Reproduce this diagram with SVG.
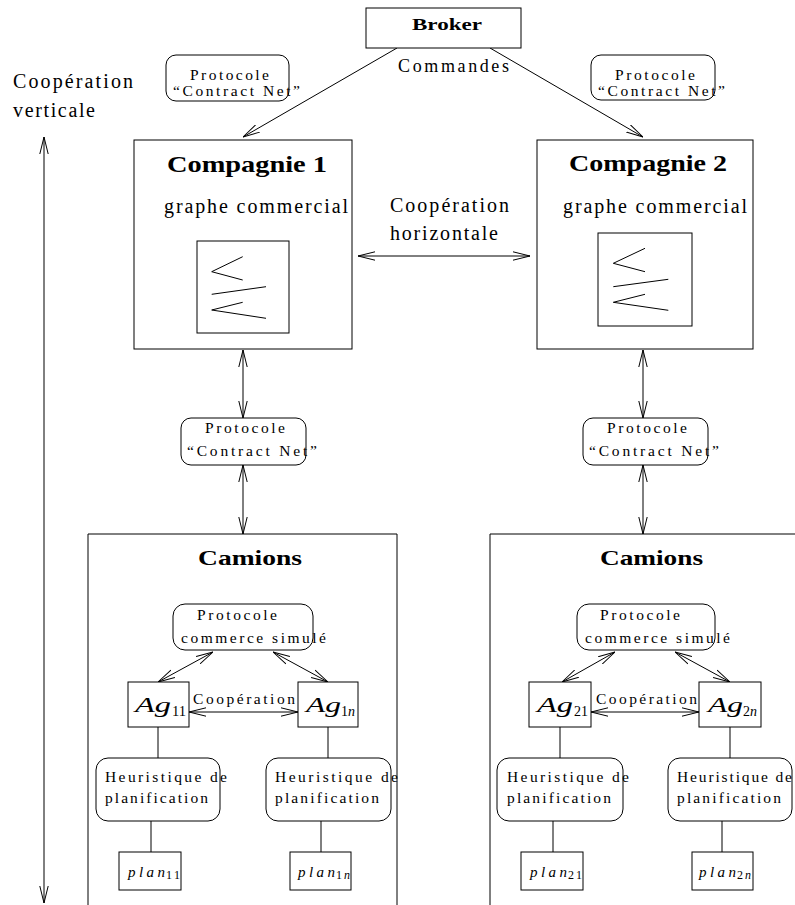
<svg xmlns="http://www.w3.org/2000/svg" width="795" height="905" viewBox="0 0 795 905">
<style>
text{font-family:"Liberation Serif","DejaVu Serif",serif;fill:#000}
.b{font-weight:bold}
.i{font-style:italic}
.s{font-size:15.5px}
.box{fill:#fff;stroke:#000;stroke-width:1}
.ln{fill:none;stroke:#000;stroke-width:1}
.ar{fill:none;stroke:#000;stroke-width:1;marker-end:url(#ah)}
.ar2{fill:none;stroke:#000;stroke-width:1;marker-end:url(#ah);marker-start:url(#ah)}
</style>
<defs>
<marker id="ah" viewBox="0 0 17 10" refX="17" refY="5" markerWidth="17" markerHeight="10" markerUnits="userSpaceOnUse" orient="auto-start-reverse">
<path d="M0,0.8 L17,5 L0,9.2" fill="none" stroke="#000" stroke-width="1"/>
</marker>
</defs>
<rect width="795" height="905" fill="#fff"/>

<g id="connectors">
<path class="ar" d="M397,48 L243,137"/>
<path class="ar" d="M490,48 L643,137"/>
<path class="ar2" d="M44,137 L44,903"/>
<path class="ar2" d="M358,256 L530,256"/>
<path class="ar2" d="M243,350 L243,418"/>
<path class="ar2" d="M243,465 L243,534"/>
<path class="ar2" d="M643,350 L643,418"/>
<path class="ar2" d="M643,465 L643,534"/>
<path class="ar2" d="M213,652 L158,682"/>
<path class="ar2" d="M273,652 L328,682"/>
<path class="ar2" d="M189,712 L298,712"/>
<path class="ar2" d="M615,652 L562,682"/>
<path class="ar2" d="M675,652 L730,682"/>
<path class="ar2" d="M591,712 L699,712"/>
<path class="ln" d="M158,727 V758 M151,821 V852 M328,727 V758 M321,821 V852"/>
<path class="ln" d="M560,727 V758 M553,821 V852 M730,727 V758 M722,821 V852"/>
</g>

<g id="labels">
<text x="13" y="88" font-size="20" textLength="120" lengthAdjust="spacing">Coopération</text>
<text x="13" y="117" font-size="20" textLength="82" lengthAdjust="spacing">verticale</text>
<text x="398" y="72" font-size="18" textLength="111" lengthAdjust="spacing">Commandes</text>
<text x="390" y="212" font-size="20" textLength="119" lengthAdjust="spacing">Coopération</text>
<text x="390" y="240" font-size="20" textLength="108" lengthAdjust="spacing">horizontale</text>
</g>

<g id="broker">
<rect class="box" x="366" y="8" width="155" height="40"/>
<text class="b" x="412" y="30" font-size="17" textLength="70" lengthAdjust="spacingAndGlyphs">Broker</text>
</g>

<g id="protocole-tl">
<rect class="box" x="166" y="55" width="123" height="46" rx="10"/>
<text class="s" x="190" y="80" textLength="79" lengthAdjust="spacing">Protocole</text>
<text class="s" x="173" y="96" textLength="127" lengthAdjust="spacing">“Contract Net”</text>
</g>

<g id="protocole-tr">
<rect class="box" x="591" y="55" width="124" height="45" rx="10"/>
<text class="s" x="615" y="80" textLength="80" lengthAdjust="spacing">Protocole</text>
<text class="s" x="598" y="96" textLength="127" lengthAdjust="spacing">“Contract Net”</text>
</g>

<g id="compagnie1">
<rect class="box" x="134" y="140" width="218" height="209"/>
<text class="b" x="167" y="172" font-size="24" textLength="160" lengthAdjust="spacingAndGlyphs">Compagnie 1</text>
<text x="164" y="213" font-size="20" textLength="184" lengthAdjust="spacing">graphe commercial</text>
<rect class="box" x="197" y="241" width="92" height="92"/>
<path class="ln" d="M242.7,256.7 L211.7,271.7 L242.7,280 M211.7,294.3 L266,286.7 M242.7,302.3 L211.7,310 L266,318.3"/>
</g>

<g id="compagnie2">
<rect class="box" x="537" y="140" width="216" height="209"/>
<text class="b" x="569" y="171" font-size="24" textLength="158" lengthAdjust="spacingAndGlyphs">Compagnie 2</text>
<text x="563" y="213" font-size="20" textLength="184" lengthAdjust="spacing">graphe commercial</text>
<rect class="box" x="598" y="233" width="94" height="93"/>
<path class="ln" d="M645,248.3 L613.3,263.3 L645,271.7 M613.3,286.7 L668.3,279.3 M645,294.3 L613.3,302.3 L668.3,310.3"/>
</g>

<g id="protocole-cl">
<rect class="box" x="181" y="418" width="125" height="47" rx="10"/>
<text class="s" x="205" y="433" textLength="80" lengthAdjust="spacing">Protocole</text>
<text class="s" x="187" y="456" textLength="130" lengthAdjust="spacing">“Contract Net”</text>
</g>

<g id="protocole-cr">
<rect class="box" x="583" y="418" width="125" height="47" rx="10"/>
<text class="s" x="607" y="433" textLength="80" lengthAdjust="spacing">Protocole</text>
<text class="s" x="589" y="456" textLength="130" lengthAdjust="spacing">“Contract Net”</text>
</g>

<g id="camions1">
<path class="ln" d="M88,905 V534 H397 V905"/>
<text class="b" x="198" y="565" font-size="22" textLength="104" lengthAdjust="spacingAndGlyphs">Camions</text>
</g>

<g id="camions2">
<path class="ln" d="M490,905 V534 H796"/>
<text class="b" x="600" y="565" font-size="22" textLength="103" lengthAdjust="spacingAndGlyphs">Camions</text>
</g>

<g id="commerce1">
<rect class="box" x="173" y="604" width="140" height="46" rx="12"/>
<text class="s" x="197" y="620" textLength="80" lengthAdjust="spacing">Protocole</text>
<text class="s" x="181" y="643" textLength="145" lengthAdjust="spacing">commerce simulé</text>
</g>

<g id="commerce2">
<rect class="box" x="577" y="604" width="138" height="46" rx="12"/>
<text class="s" x="600" y="620" textLength="80" lengthAdjust="spacing">Protocole</text>
<text class="s" x="585" y="643" textLength="145" lengthAdjust="spacing">commerce simulé</text>
</g>

<text class="s" x="193" y="704" textLength="102" lengthAdjust="spacing">Coopération</text>
<text class="s" x="596" y="704" textLength="101" lengthAdjust="spacing">Coopération</text>

<g id="ag11">
<rect class="box" x="128" y="682" width="61" height="45"/>
<text class="i" x="135" y="712" font-size="22" textLength="36" lengthAdjust="spacingAndGlyphs">Ag</text>
<text x="172" y="716" font-size="14" textLength="14" lengthAdjust="spacingAndGlyphs">11</text>
</g>
<g id="ag1n">
<rect class="box" x="298" y="682" width="60" height="45"/>
<text class="i" x="306" y="712" font-size="22" textLength="35" lengthAdjust="spacingAndGlyphs">Ag</text>
<text x="341" y="716" font-size="14">1<tspan class="i">n</tspan></text>
</g>
<g id="ag21">
<rect class="box" x="529" y="682" width="62" height="45"/>
<text class="i" x="537" y="712" font-size="22" textLength="36" lengthAdjust="spacingAndGlyphs">Ag</text>
<text x="574" y="716" font-size="14" textLength="14" lengthAdjust="spacingAndGlyphs">21</text>
</g>
<g id="ag2n">
<rect class="box" x="699" y="682" width="62" height="45"/>
<text class="i" x="708" y="712" font-size="22" textLength="35" lengthAdjust="spacingAndGlyphs">Ag</text>
<text x="743" y="716" font-size="14">2<tspan class="i">n</tspan></text>
</g>

<g id="heur11">
<rect class="box" x="96" y="758" width="124" height="63" rx="12"/>
<text class="s" x="105" y="782" textLength="122" lengthAdjust="spacing">Heuristique de</text>
<text class="s" x="105" y="803" textLength="103" lengthAdjust="spacing">planification</text>
</g>
<g id="heur1n">
<rect class="box" x="266" y="758" width="125" height="63" rx="12"/>
<text class="s" x="275" y="782" textLength="123" lengthAdjust="spacing">Heuristique de</text>
<text class="s" x="275" y="803" textLength="104" lengthAdjust="spacing">planification</text>
</g>
<g id="heur21">
<rect class="box" x="497" y="758" width="126" height="63" rx="12"/>
<text class="s" x="507" y="782" textLength="122" lengthAdjust="spacing">Heuristique de</text>
<text class="s" x="507" y="803" textLength="104" lengthAdjust="spacing">planification</text>
</g>
<g id="heur2n">
<rect class="box" x="668" y="758" width="124" height="63" rx="12"/>
<text class="s" x="677" y="782" textLength="115" lengthAdjust="spacing">Heuristique de</text>
<text class="s" x="677" y="803" textLength="104" lengthAdjust="spacing">planification</text>
</g>

<g id="plan11">
<rect class="box" x="119" y="852" width="62" height="38"/>
<text class="i" x="128" y="877" font-size="15" textLength="37" lengthAdjust="spacing">plan</text>
<text x="166" y="879" font-size="12" textLength="14" lengthAdjust="spacing">11</text>
</g>
<g id="plan1n">
<rect class="box" x="290" y="852" width="61" height="38"/>
<text class="i" x="298" y="877" font-size="15" textLength="37" lengthAdjust="spacing">plan</text>
<text x="336" y="879" font-size="12">1<tspan class="i" dx="2">n</tspan></text>
</g>
<g id="plan21">
<rect class="box" x="521" y="852" width="62" height="38"/>
<text class="i" x="530" y="877" font-size="15" textLength="37" lengthAdjust="spacing">plan</text>
<text x="568" y="879" font-size="12" textLength="14" lengthAdjust="spacing">21</text>
</g>
<g id="plan2n">
<rect class="box" x="692" y="852" width="61" height="38"/>
<text class="i" x="699" y="877" font-size="15" textLength="37" lengthAdjust="spacing">plan</text>
<text x="737" y="879" font-size="12">2<tspan class="i" dx="2">n</tspan></text>
</g>
</svg>
